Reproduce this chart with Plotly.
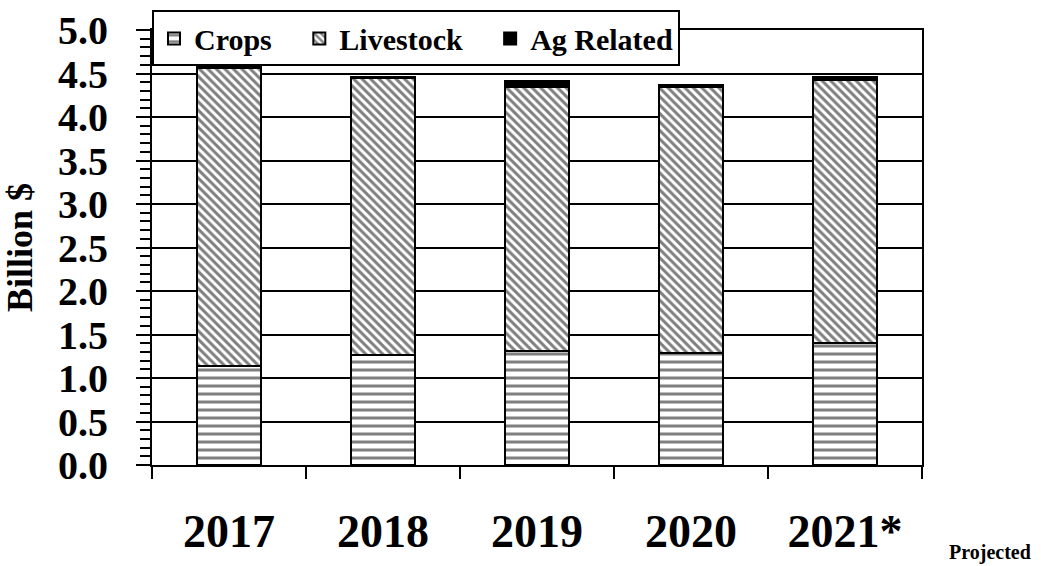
import plotly.graph_objects as go

years = ["2017", "2018", "2019", "2020", "2021*"]
crops = [1.14, 1.26, 1.31, 1.29, 1.40]
livestock = [3.42, 3.19, 3.03, 3.05, 3.03]
ag_related = [0.01, 0.01, 0.075, 0.03, 0.03]
y_tick_vals = [0.0, 0.5, 1.0, 1.5, 2.0, 2.5, 3.0, 3.5, 4.0, 4.5, 5.0]
y_tick_text = ["0.0", "0.5", "1.0", "1.5", "2.0", "2.5", "3.0", "3.5", "4.0", "4.5", "5.0"]
series_names = ["Crops", "Livestock", "Ag Related"]

FONT = "Liberation Serif"
NB = "\u00a0"

fig = go.Figure()
fig.add_trace(go.Bar(
    name=series_names[0] + NB * 3, x=years, y=crops,
    marker=dict(color="white", line=dict(color="black", width=2),
                pattern=dict(shape="-", size=8, solidity=0.375,
                             fgcolor="black", bgcolor="white")),
))
fig.add_trace(go.Bar(
    name=series_names[1] + NB * 3, x=years, y=livestock,
    marker=dict(color="white", line=dict(color="black", width=2),
                pattern=dict(shape="\\", size=6, solidity=0.5,
                             fgcolor="black", bgcolor="white")),
))
fig.add_trace(go.Bar(
    name=series_names[2], x=years, y=ag_related,
    marker=dict(color="black", line=dict(color="black", width=2)),
))

fig.update_layout(
    barmode="stack",
    bargap=0.584,
    width=1041, height=566,
    paper_bgcolor="white", plot_bgcolor="white",
    margin=dict(l=152, r=119, t=30, b=101, autoexpand=False),
    font=dict(family=FONT, color="black"),
    showlegend=True,
    legend=dict(
        orientation="h", x=0, xanchor="left", y=1.045, yanchor="top",
        bgcolor="white", bordercolor="black", borderwidth=2,
        font=dict(family=FONT, size=30, weight="bold", color="black"),
        traceorder="normal",
    ),
    annotations=[dict(
        text="Projected", xref="paper", yref="paper", x=1.088, y=-0.202,
        xanchor="center", yanchor="middle",
        showarrow=False, font=dict(family=FONT, size=20, weight="bold", color="black"),
    )],
)

fig.update_xaxes(
    type="category", range=[-0.5, 4.5],
    tickson="boundaries", ticks="outside", ticklen=12, tickwidth=2, tickcolor="black",
    showline=True, linecolor="black", linewidth=2, mirror=True,
    showgrid=False,
    tickfont=dict(family=FONT, size=46, weight="bold", color="black"),
    ticklabelstandoff=25, automargin=False,
)

fig.update_yaxes(
    range=[0, 5], tickmode="array", tickvals=y_tick_vals, ticktext=y_tick_text,
    ticks="outside", ticklen=14, tickwidth=2, tickcolor="black",
    showline=True, linecolor="black", linewidth=2, mirror=True,
    showgrid=True, gridcolor="black", gridwidth=1.5,
    zeroline=False,
    minor=dict(dtick=0.1, tick0=0, ticks="outside", ticklen=10, tickwidth=1.5,
               tickcolor="black", showgrid=False),
    tickfont=dict(family=FONT, size=40, weight="bold", color="black"),
    ticklabelstandoff=20, automargin=False,
    title=dict(text="Billion $", standoff=16,
               font=dict(family=FONT, size=36, weight="bold", color="black")),
)

fig.write_html(
    "out.html",
    config={"displayModeBar": False},
    post_script="document.body.style.margin='0';document.body.style.padding='0';",
)
